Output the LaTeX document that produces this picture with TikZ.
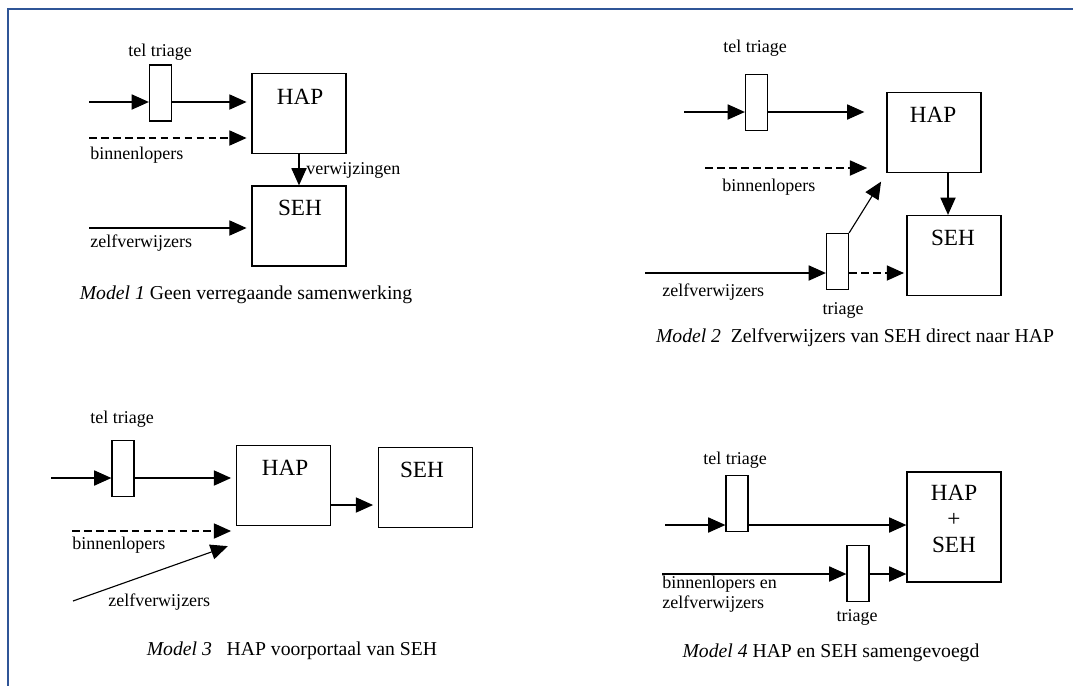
\documentclass[tikz,border=0pt]{standalone}
\usepackage{fontspec}
\setmainfont{Liberation Serif}
\usepackage{tikz}
\usetikzlibrary{arrows.meta,positioning,calc}
\definecolor{kader}{RGB}{47,85,151}
\tikzset{
>={Triangle[length=0.43cm,width=0.38cm]},
  blok/.style={
    rectangle,
    draw=black, line width=0.9pt,
    minimum width=2.35cm,
    minimum height=2cm,
    inner sep=0pt},
  balie/.style={
    rectangle,
    draw=black, line width=0.9pt,
    fill=white,
    minimum width=0.55cm,
    minimum height=1.4cm,
    inner sep=0pt},
  pijl/.style={->, line width=0.8pt},
  stippel/.style={->, line width=0.8pt, dash pattern=on 5.5pt off 3pt},
  klein/.style={font=\fontsize{12.8}{14.2}\selectfont, inner sep=0pt},
  groot/.style={font=\fontsize{16.5}{18.8}\selectfont, inner sep=0pt},
  bijschrift/.style={font=\fontsize{14}{16}\selectfont, inner sep=0pt}
}

\begin{document}
\begin{tikzpicture}[x=0.025cm,y=-0.025cm]
    \useasboundingbox (0,0) rectangle (1073,686);
    \draw[kader, line width=2pt] (1073,9) -- (8,9) -- (8,686);

    % model 1
    \node[balie] (tel1) at (160.5,93) {};
    \node[blok] (hap1) at (299,113.5) {};
    \node[blok] (seh1) at (299,226) {};
    \node[klein] (tel1lbl) at (160,52) {tel triage};
    \node[groot] (hap1t) at (300,97) {HAP};
    \node[groot] (seh1t) at (300,208) {SEH};
    \node[klein, anchor=west] (bin1) at (90,155) {binnenlopers};
    \node[klein, anchor=west] (verw1) at (306,170) {verwijzingen};
    \node[klein, anchor=west] (zelf1) at (90,243) {zelfverwijzers};
    \node[bijschrift] (cap1) at (246,295) {\textit{Model 1}\ Geen verregaande samenwerking};
    \coordinate (a1) at (89,102);
    \coordinate (b1) at (89,138);
    \coordinate (c1) at (89,228);
    \draw[pijl] (a1) -- (a1 -| tel1.west);
    \draw[pijl, shorten >=0.12cm] (a1 -| tel1.east) -- (a1 -| hap1.west);
    \draw[stippel, shorten >=0.12cm] (b1) -- (b1 -| hap1.west);
    \draw[pijl] (hap1.south) -- (seh1.north);
    \draw[pijl, shorten >=0.12cm] (c1) -- (c1 -| seh1.west);

    % model 2
    \node[balie] (tel2) at (756.5,102.5) {};
    \node[blok] (hap2) at (934,132.5) {};
    \node[blok] (seh2) at (954,255.5) {};
    \node[balie] (tri2) at (837.5,261.5) {};
    \node[klein] (tel2lbl) at (755,48) {tel triage};
    \node[groot] (hap2t) at (933,115) {HAP};
    \node[groot] (seh2t) at (953,238) {SEH};
    \node[klein, anchor=west] (bin2) at (722,187) {binnenlopers};
    \node[klein, anchor=west] (zelf2) at (662,292) {zelfverwijzers};
    \node[klein] (tri2lbl) at (843,310) {triage};
    \node[bijschrift] (cap2) at (855,338) {\textit{Model 2}\ \ Zelfverwijzers van SEH direct naar HAP};
    \coordinate (a2) at (684,112);
    \coordinate (b2) at (705,168);
    \coordinate (c2) at (645,273);
    \draw[pijl] (a2) -- (a2 -| tel2.west);
    \draw[pijl, shorten >=0.55cm] (a2 -| tel2.east) -- (a2 -| hap2.west);
    \draw[stippel, shorten >=0.48cm] (b2) -- (b2 -| hap2.west);
    \draw[pijl, shorten >=0.25cm] (tri2.north east) -- (hap2.south west);
    \draw[pijl] ([xshift=0.35cm]hap2.south) -- ([xshift=0.35cm]hap2.south |- seh2.north);
    \draw[pijl] (c2) -- (c2 -| tri2.west);
    \draw[stippel, shorten >=0.06cm] (c2 -| tri2.east) -- (c2 -| seh2.west);

    % model 3
    \node[balie] (tel3) at (123,468.5) {};
    \node[blok] (hap3) at (283.5,485.5) {};
    \node[blok] (seh3) at (425.5,487.5) {};
    \node[klein] (tel3lbl) at (122,419) {tel triage};
    \node[groot] (hap3t) at (285,468) {HAP};
    \node[groot] (seh3t) at (422,470) {SEH};
    \node[klein, anchor=west] (bin3) at (72,545) {binnenlopers};
    \node[klein, anchor=west] (zelf3) at (108,602) {zelfverwijzers};
    \node[bijschrift] (cap3) at (292,651) {\textit{Model 3}\ \ \ HAP voorportaal van SEH};
    \coordinate (a3) at (51,478);
    \coordinate (b3) at (72,531);
    \coordinate (c3) at (73,601);
    \coordinate (d3) at (330,505);
    \draw[pijl] (a3) -- (a3 -| tel3.west);
    \draw[pijl, shorten >=0.12cm] (a3 -| tel3.east) -- (a3 -| hap3.west);
    \draw[pijl, shorten >=0.12cm] (d3 -| hap3.east) -- (d3 -| seh3.west);
    \draw[stippel, shorten >=0.12cm] (b3) -- (b3 -| hap3.west);
    \draw[pijl] (c3) -- ([xshift=-0.2cm,yshift=-0.5cm]hap3.south west);

    % model 4
    \node[balie] (tel4) at (737,503.5) {};
    \node[blok, minimum height=2.75cm] (hs4) at (954,527) {};
    \node[balie] (tri4) at (858,573.5) {};
    \node[klein] (tel4lbl) at (735,460) {tel triage};
    \node[groot, align=center] (hs4t) at (954,519) {HAP\\+\\SEH};
    \node[klein, anchor=west, align=left] (binzelf4) at (662,594) {binnenlopers en\\zelfverwijzers};
    \node[klein] (tri4lbl) at (857,617) {triage};
    \node[bijschrift] (cap4) at (831,653) {\textit{Model 4}\ HAP en SEH samengevoegd};
    \coordinate (a4) at (665,525);
    \coordinate (c4) at (662,574);
    \draw[pijl] (a4) -- (a4 -| tel4.west);
    \draw[pijl] (a4 -| tel4.east) -- (a4 -| hs4.west);
    \draw[pijl] (c4) -- (c4 -| tri4.west);
    \draw[pijl] (c4 -| tri4.east) -- (c4 -| hs4.west);
\end{tikzpicture}
\end{document}
